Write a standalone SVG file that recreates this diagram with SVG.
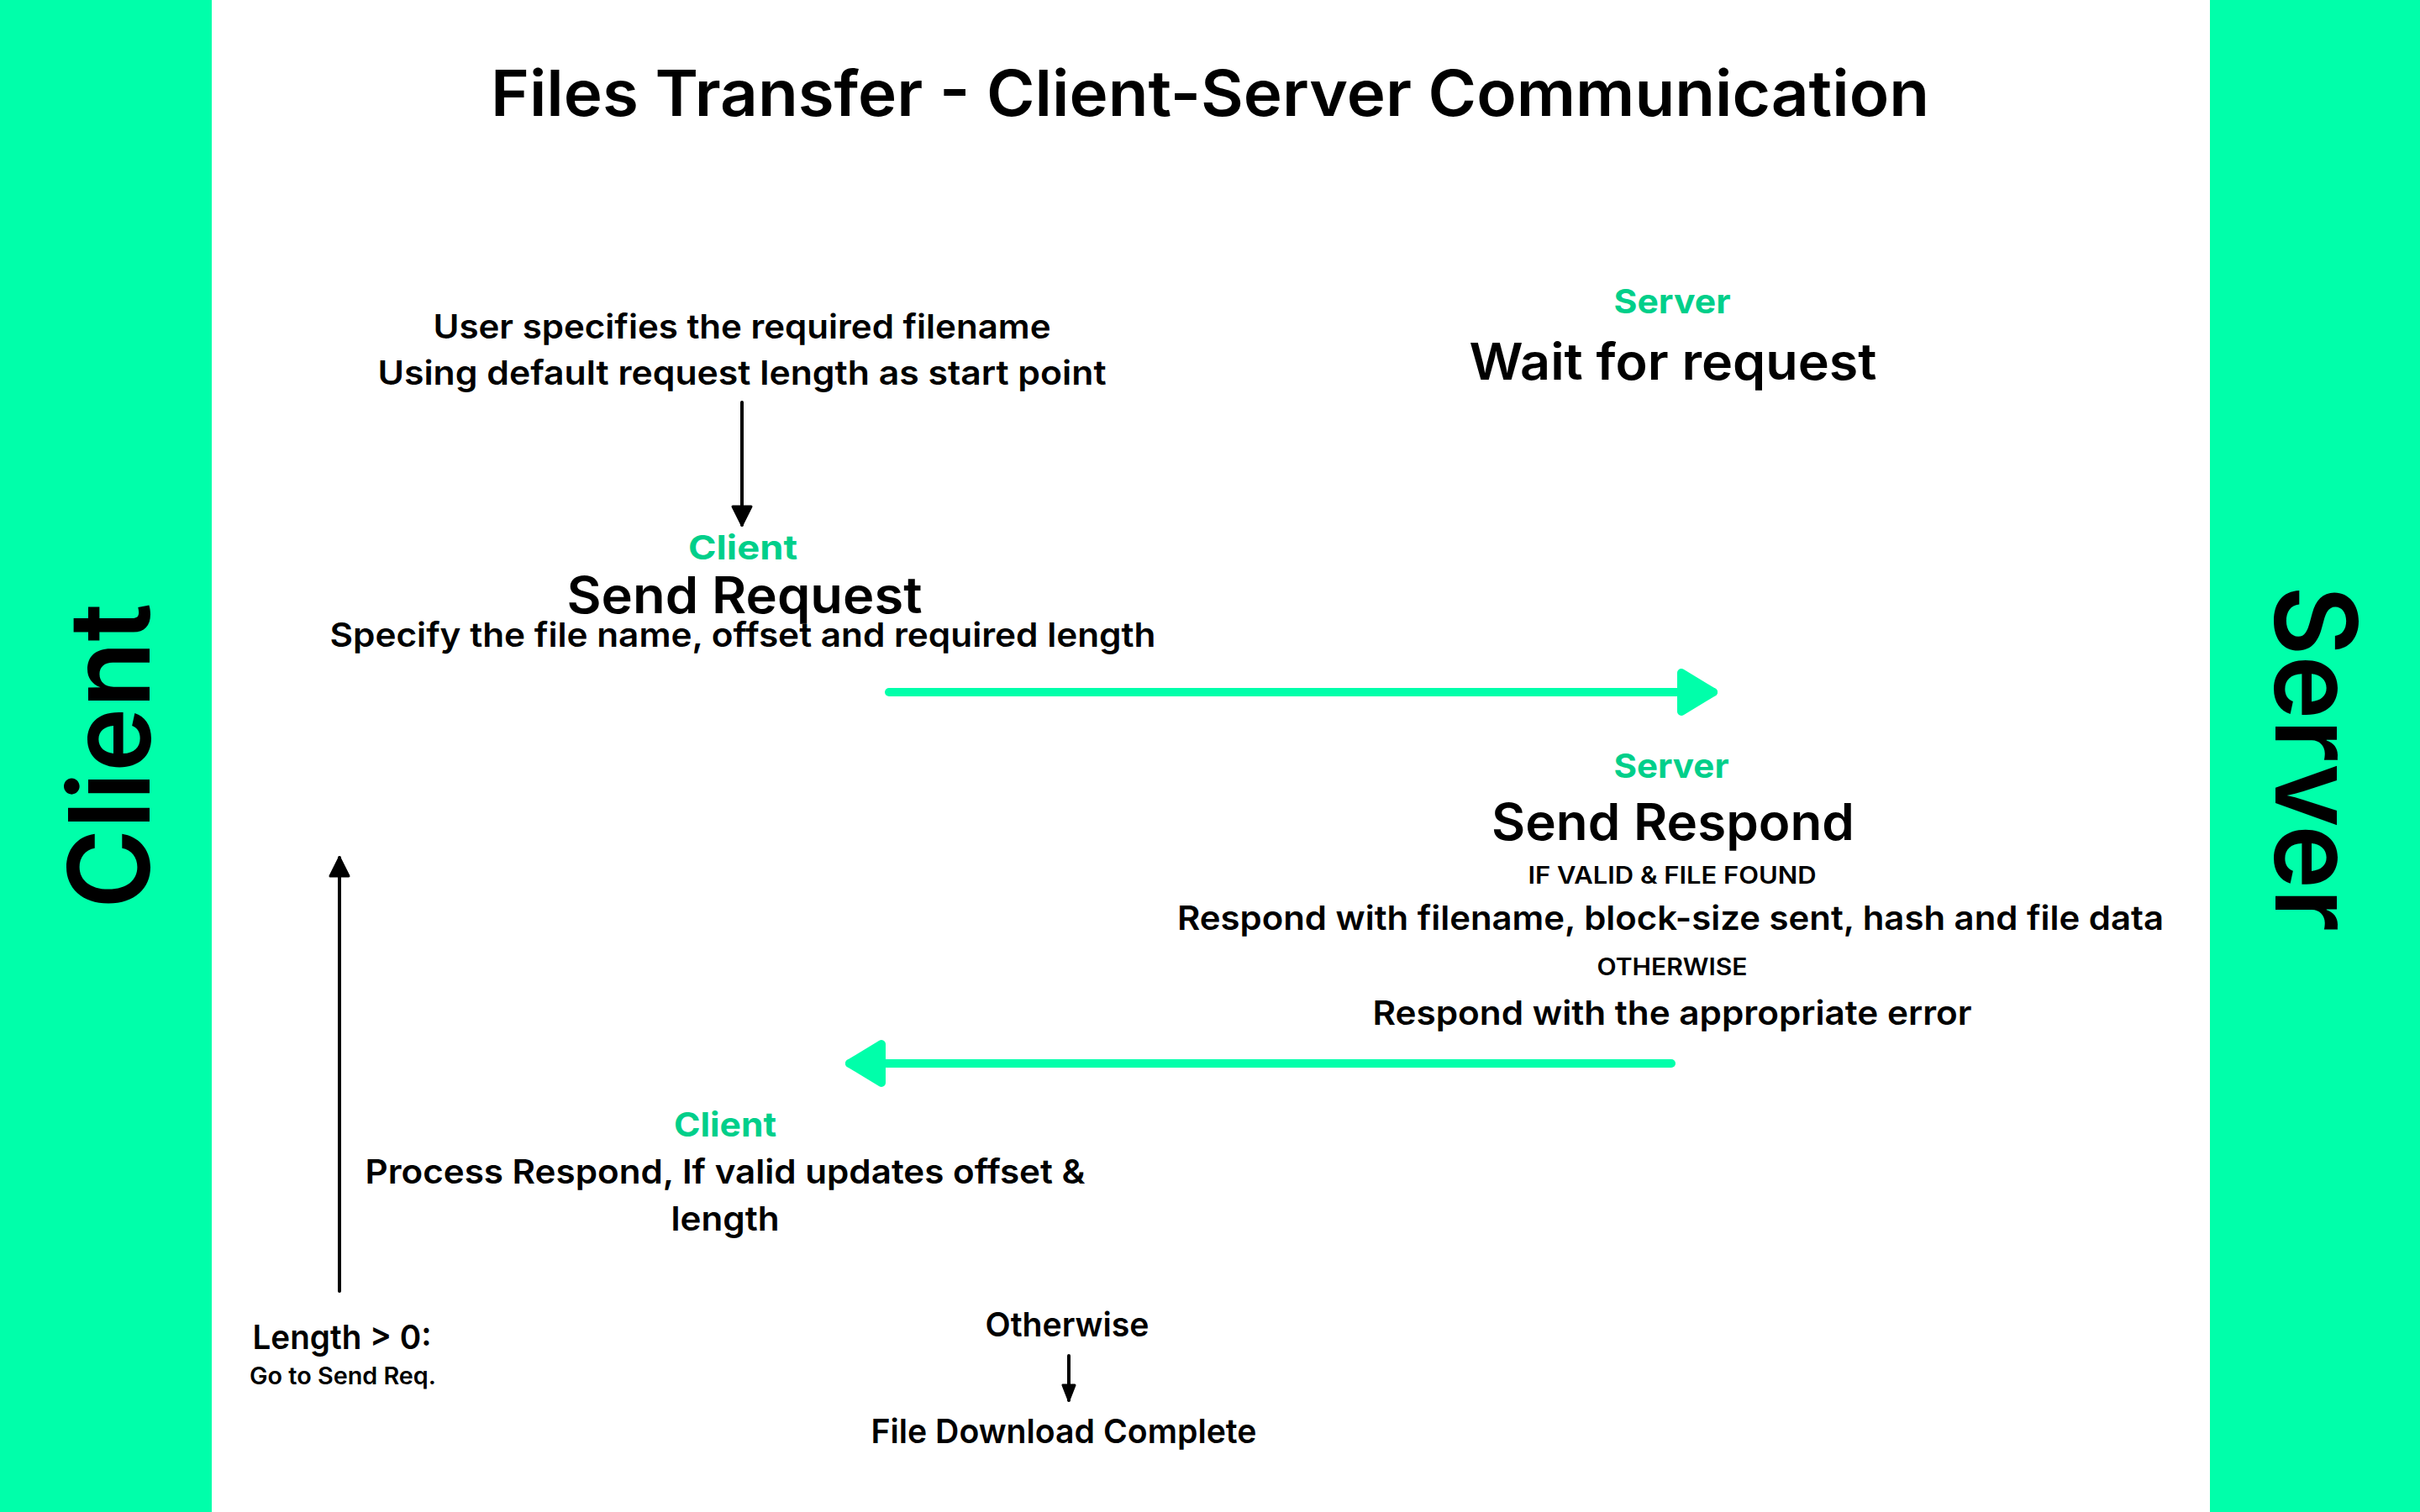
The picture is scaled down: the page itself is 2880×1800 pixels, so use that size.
<svg xmlns="http://www.w3.org/2000/svg" width="2880" height="1800" viewBox="0 0 2880 1800">
<style>
text{font-family:Inter,"Noto Sans","Liberation Sans",sans-serif;text-anchor:middle;fill:#000}
.title{font-size:76px;font-weight:600}
.side{font-size:134px;font-weight:600}
.head{font-size:60px;font-weight:600}
.body{font-size:40px;font-weight:600}
.small{font-size:28px;font-weight:600}
.tag{font-size:40px;font-weight:700;fill:#00CF8A}
.conn-g{stroke:#00FFAA;stroke-width:10;stroke-linecap:round;fill:none}
.conn-k{stroke:#000;stroke-width:4;stroke-linecap:round;fill:none}
</style>
<defs>
<marker id="ahG" markerUnits="userSpaceOnUse" markerWidth="60" markerHeight="70" viewBox="0 0 60 70" refX="48" refY="35" orient="auto">
<path d="M10,12 L48,35 L10,58 Z" fill="#00FFAA" stroke="#00FFAA" stroke-width="10" stroke-linejoin="round"/>
</marker>
<marker id="ahK" markerUnits="userSpaceOnUse" markerWidth="30" markerHeight="30" viewBox="0 0 30 30" refX="25" refY="15" orient="auto">
<path d="M3,4 L25,15 L3,26 Z" fill="#000" stroke="#000" stroke-width="3" stroke-linejoin="round"/>
</marker>
<marker id="ahKs" markerUnits="userSpaceOnUse" markerWidth="24" markerHeight="24" viewBox="0 0 24 24" refX="20" refY="12" orient="auto">
<path d="M2,5 L20,12 L2,19 Z" fill="#000" stroke="#000" stroke-width="3" stroke-linejoin="round"/>
</marker>
</defs>
<rect x="0" y="0" width="2880" height="1800" fill="#fff"/>
<g id="lane-client">
<rect x="0" y="0" width="252" height="1800" fill="#00FFAA"/>
<text class="side" transform="translate(178,900) rotate(-90)" x="0" y="0" textLength="364" lengthAdjust="spacingAndGlyphs">Client</text>
</g>
<g id="lane-server">
<rect x="2630" y="0" width="250" height="1800" fill="#00FFAA"/>
<text class="side" transform="translate(2708,903) rotate(90)" x="0" y="0" textLength="412" lengthAdjust="spacingAndGlyphs">Server</text>
</g>
<g id="title">
<text class="title" x="1440" y="138" textLength="1712" lengthAdjust="spacingAndGlyphs">Files Transfer - Client-Server Communication</text>
</g>
<g id="node-user">
<text class="body" x="883" y="403" textLength="735" lengthAdjust="spacingAndGlyphs">User specifies the required filename</text>
<text class="body" x="883" y="458" textLength="867" lengthAdjust="spacingAndGlyphs">Using default request length as start point</text>
</g>
<g id="node-send-request">
<text class="tag" x="884" y="666" textLength="130" lengthAdjust="spacingAndGlyphs">Client</text>
<text class="head" x="886" y="730" textLength="423" lengthAdjust="spacingAndGlyphs">Send Request</text>
<text class="body" x="884" y="770" textLength="983" lengthAdjust="spacingAndGlyphs">Specify the file name, offset and required length</text>
</g>
<g id="node-wait">
<text class="tag" x="1990" y="373" textLength="139" lengthAdjust="spacingAndGlyphs">Server</text>
<text class="head" x="1991" y="452" textLength="485" lengthAdjust="spacingAndGlyphs">Wait for request</text>
</g>
<g id="node-send-respond">
<text class="tag" x="1989" y="926" textLength="137" lengthAdjust="spacingAndGlyphs">Server</text>
<text class="head" x="1991" y="1000" textLength="432" lengthAdjust="spacingAndGlyphs">Send Respond</text>
<text class="small" x="1990" y="1052" textLength="343" lengthAdjust="spacingAndGlyphs">IF VALID &amp; FILE FOUND</text>
<text class="body" x="1988" y="1107" textLength="1174" lengthAdjust="spacingAndGlyphs">Respond with filename, block-size sent, hash and file data</text>
<text class="small" x="1990" y="1161" textLength="179" lengthAdjust="spacingAndGlyphs">OTHERWISE</text>
<text class="body" x="1990" y="1220" textLength="713" lengthAdjust="spacingAndGlyphs">Respond with the appropriate error</text>
</g>
<g id="node-process">
<text class="tag" x="863" y="1353" textLength="122" lengthAdjust="spacingAndGlyphs">Client</text>
<text class="body" x="863" y="1409" textLength="857" lengthAdjust="spacingAndGlyphs">Process Respond, If valid updates offset &amp;</text>
<text class="body" x="863" y="1465" textLength="129" lengthAdjust="spacingAndGlyphs">length</text>
</g>
<g id="node-length">
<text class="body" x="407" y="1606" textLength="213" lengthAdjust="spacingAndGlyphs">Length &gt; 0:</text>
<text class="small" x="408" y="1648" textLength="222" lengthAdjust="spacingAndGlyphs">Go to Send Req.</text>
</g>
<g id="node-otherwise">
<text class="body" x="1270" y="1591" textLength="195" lengthAdjust="spacingAndGlyphs">Otherwise</text>
</g>
<g id="node-complete">
<text class="body" x="1266" y="1718" textLength="459" lengthAdjust="spacingAndGlyphs">File Download Complete</text>
</g>
<g id="connectors">
<path class="conn-k" d="M883,479 L883,625" marker-end="url(#ahK)"/>
<path class="conn-g" d="M1058,824 L2039,824" marker-end="url(#ahG)"/>
<path class="conn-g" d="M1989,1266 L1011,1266" marker-end="url(#ahG)"/>
<path class="conn-k" d="M404,1537 L404,1021" marker-end="url(#ahK)"/>
<path class="conn-k" d="M1272,1614 L1272,1667" marker-end="url(#ahKs)"/>
</g>
</svg>
